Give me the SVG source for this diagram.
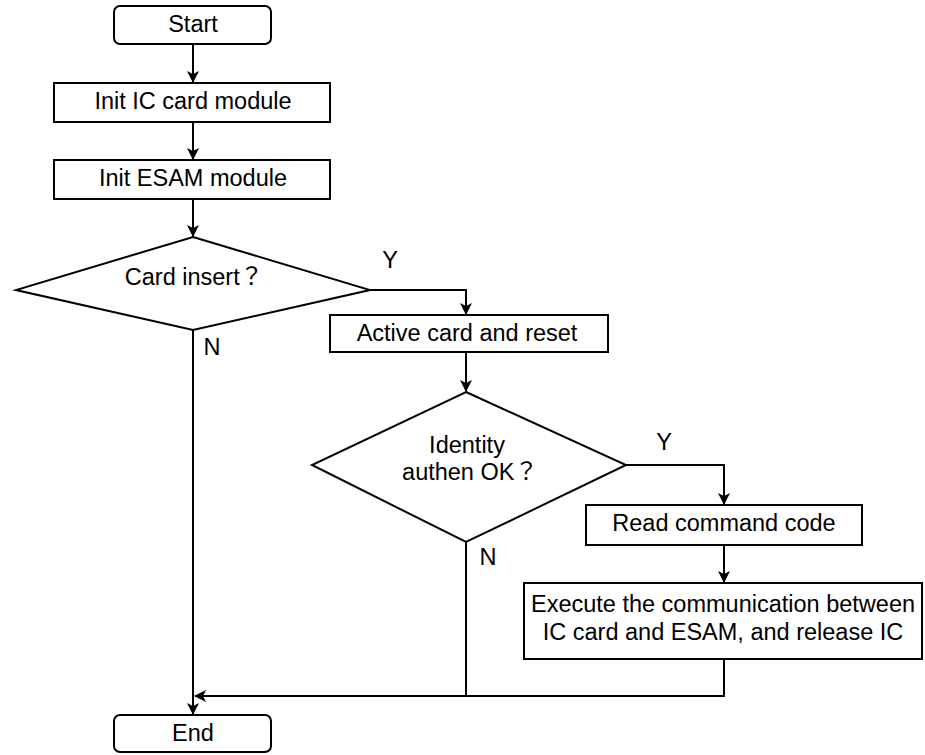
<svg xmlns="http://www.w3.org/2000/svg" width="925" height="755" viewBox="0 0 925 755">
<defs>
<style>
.box{fill:#fff;stroke:#000;stroke-width:2}
.ln{fill:none;stroke:#000;stroke-width:2}
text{font-family:"Liberation Sans","Noto Sans CJK JP",Arial,sans-serif;font-size:23.5px;fill:#000}
.c{text-anchor:middle}
.q{font-family:"Noto Sans CJK JP","Noto Sans CJK TC",sans-serif}
</style>
<marker id="ah" viewBox="0 0 12 12" refX="11" refY="6" markerWidth="12" markerHeight="12" markerUnits="userSpaceOnUse" orient="auto">
<path d="M0,0 L12,6 L0,12 L3,6 Z" fill="#000"/>
</marker>
</defs>
<rect width="925" height="755" fill="#fff"/>
<g id="connectors">
<line class="ln" x1="193" y1="44" x2="193" y2="82" marker-end="url(#ah)"/>
<line class="ln" x1="193" y1="122" x2="193" y2="159" marker-end="url(#ah)"/>
<line class="ln" x1="193" y1="199" x2="193" y2="236" marker-end="url(#ah)"/>
<polyline class="ln" points="370,290 466,290 466,314" marker-end="url(#ah)"/>
<line class="ln" x1="466" y1="352" x2="466" y2="391" marker-end="url(#ah)"/>
<polyline class="ln" points="626,465 724,465 724,504" marker-end="url(#ah)"/>
<line class="ln" x1="724" y1="545" x2="724" y2="582" marker-end="url(#ah)"/>
<polyline class="ln" points="724,659 724,696 195,696" marker-end="url(#ah)"/>
<line class="ln" x1="466" y1="542" x2="466" y2="696"/>
<line class="ln" x1="193" y1="330" x2="193" y2="714" marker-end="url(#ah)"/>
<text x="390" y="268" class="c">Y</text>
<text x="212" y="355" class="c">N</text>
<text x="664" y="450" class="c">Y</text>
<text x="488" y="565" class="c">N</text>
</g>
<g id="start">
<rect class="box" x="114" y="6" width="157" height="38" rx="6"/>
<text x="193" y="32" class="c">Start</text>
</g>
<g id="init-ic">
<rect class="box" x="54" y="83" width="276" height="39"/>
<text x="193" y="109" class="c">Init IC card module</text>
</g>
<g id="init-esam">
<rect class="box" x="54" y="160" width="276" height="39"/>
<text x="193" y="186" class="c">Init ESAM module</text>
</g>
<g id="card-insert">
<polygon class="box" points="193,237 370,290 193,330 16,290"/>
<text x="194" y="285" class="c">Card insert<tspan class="q">？</tspan></text>
</g>
<g id="active-card">
<rect class="box" x="330" y="315" width="278" height="37"/>
<text x="467" y="341" class="c">Active card and reset</text>
</g>
<g id="identity">
<polygon class="box" points="466,392 626,465 466,542 312,465"/>
<text x="467" y="453" class="c">Identity</text>
<text x="470" y="480" class="c">authen OK<tspan class="q">？</tspan></text>
</g>
<g id="read-cmd">
<rect class="box" x="586" y="505" width="276" height="40"/>
<text x="724" y="531" class="c">Read command code</text>
</g>
<g id="execute">
<rect class="box" x="524" y="583" width="398" height="76"/>
<text x="723" y="612" class="c">Execute the communication between</text>
<text x="723" y="640" class="c">IC card and ESAM, and release IC</text>
</g>
<g id="end">
<rect class="box" x="114" y="715" width="157" height="37" rx="6"/>
<text x="193" y="741" class="c">End</text>
</g>
</svg>
